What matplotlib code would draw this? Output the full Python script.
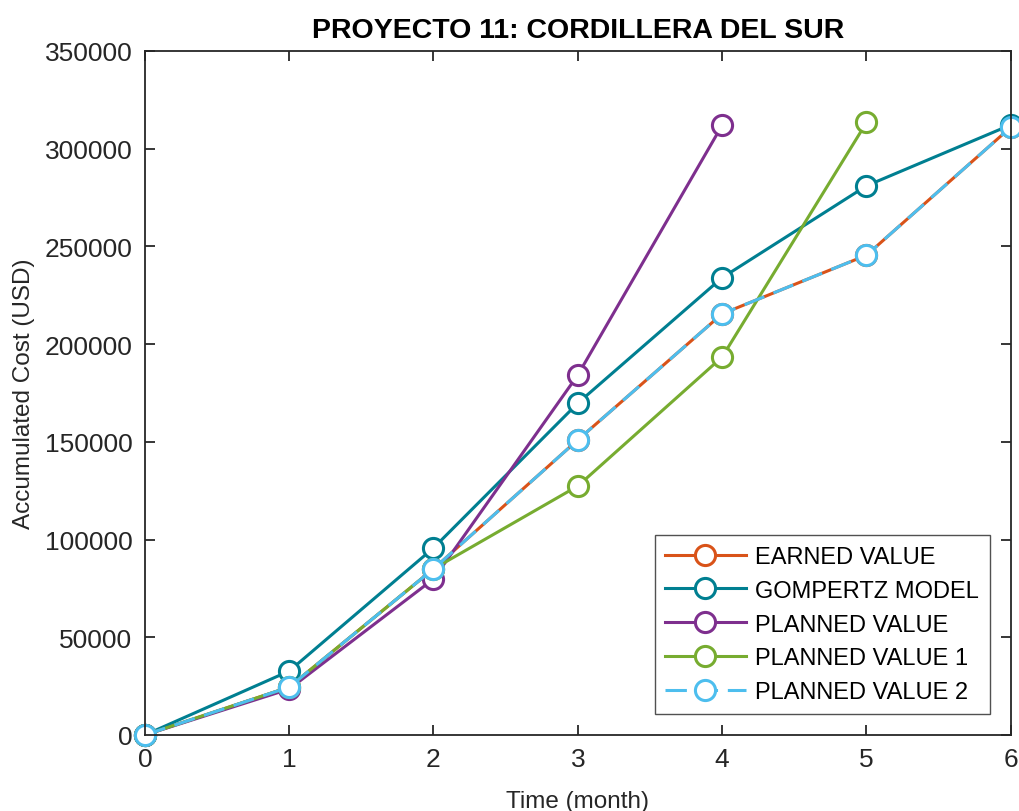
import matplotlib
matplotlib.use('Agg')
import matplotlib.pyplot as plt

plt.rcParams['font.family'] = ['Liberation Sans', 'DejaVu Sans']

# datos del proyecto
meses = [0, 1, 2, 3, 4, 5, 6]
earned_value = [0, 24500, 85000, 151000, 215500, 245500, 311000]
gompertz = [0, 32700, 95700, 169800, 234000, 281000, 312200]
planned_value = [0, 23500, 79800, 184200, 312000]
planned_value_1 = [0, 24500, 85000, 127400, 193400, 313400]
planned_value_2 = [0, 24500, 85000, 151000, 215500, 245500, 311000]

series = [
    ('EARNED VALUE', meses, earned_value, '#D95319', '-'),
    ('GOMPERTZ MODEL', meses, gompertz, '#007F91', '-'),
    ('PLANNED VALUE', meses[:len(planned_value)], planned_value, '#7E2F8E', '-'),
    ('PLANNED VALUE 1', meses[:len(planned_value_1)], planned_value_1, '#77AC30', '-'),
    ('PLANNED VALUE 2', meses, planned_value_2, '#4DBEEE', (0, (7, 3.2))),
]

fig = plt.figure(figsize=(10.2, 8.12), dpi=100)
ax = fig.add_axes([0.142, 0.0936, 0.849, 0.8424])

for nombre, x, y, c, ls in series:
    ax.plot(x, y, linestyle=ls, color=c, lw=2.2, marker='o', ms=14.5,
            mfc='white', mec=c, mew=2.2, label=nombre, clip_on=False)

ax.set_xlim(0, 6)
ax.set_ylim(0, 350000)
ax.set_xticks(range(7))
ax.set_yticks(range(0, 350001, 50000))
ax.tick_params(direction='in', top=True, right=True, length=7, width=1.3,
               labelsize=19, colors='#262626', pad=9)
for s in ax.spines.values():
    s.set_linewidth(1.3)
    s.set_color('#262626')

ax.set_title('PROYECTO 11: CORDILLERA DEL SUR', fontsize=20.5, fontweight='bold', pad=10)
ax.set_xlabel('Time (month)', fontsize=17.5, color='#262626', labelpad=13)
ax.set_ylabel('Accumulated Cost (USD)', fontsize=17.5, color='#262626', labelpad=7)

leg = ax.legend(loc='lower right', fontsize=17, frameon=True, fancybox=False,
                edgecolor='#262626', handlelength=3.4, handletextpad=0.4,
                borderaxespad=0.9, labelspacing=0.5, borderpad=0.45)
leg.get_frame().set_linewidth(1.0)

fig.savefig('out.png', dpi=100)
